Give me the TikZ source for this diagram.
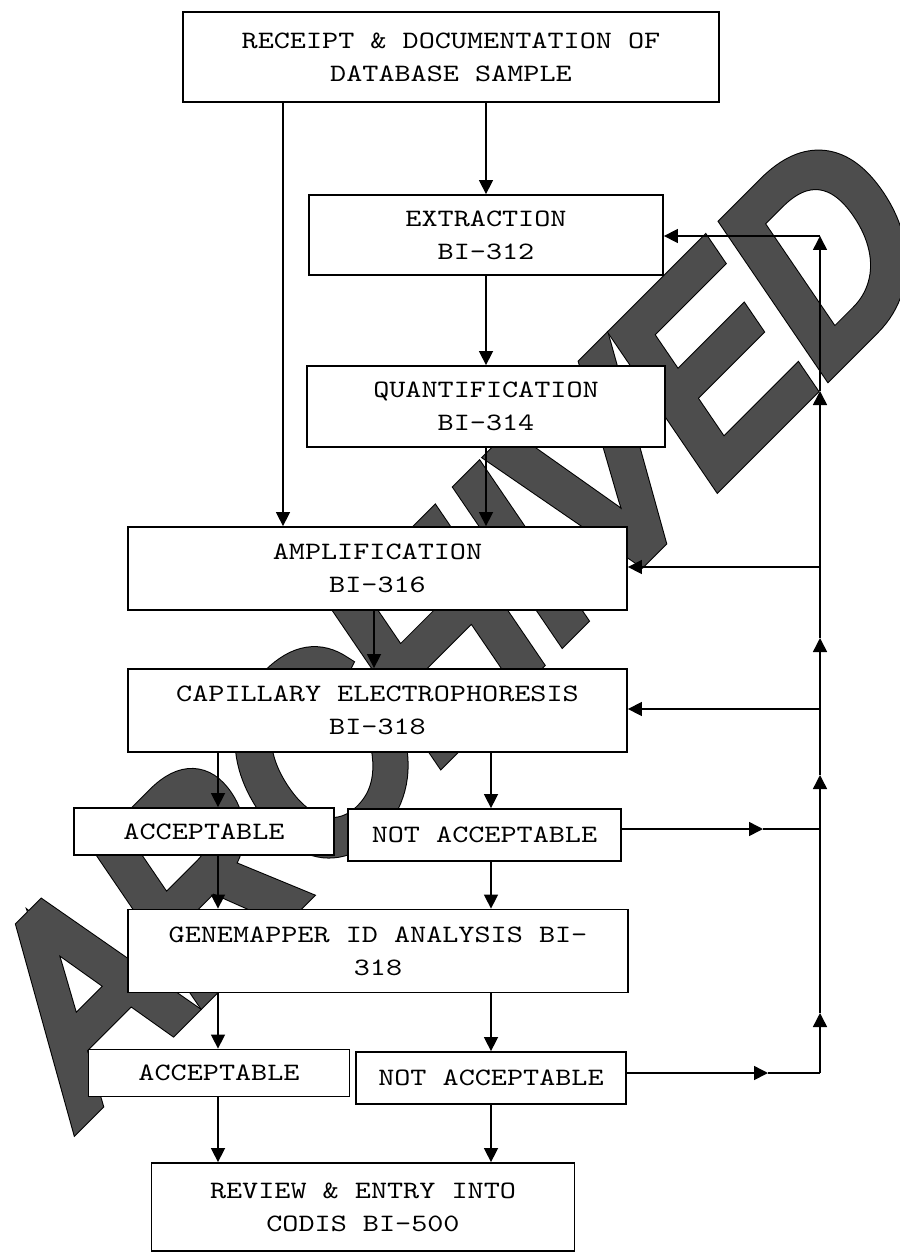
\documentclass[tikz,border=0pt]{standalone}
\usepackage{fontspec}
\usetikzlibrary{arrows.meta}
\newfontfamily\boxfont[FakeStretch=1.227]{lmmono10-regular.otf}
\newfontfamily\wmout[FakeSlant=0.19,FakeStretch=0.92,FakeBold=6.8]{Liberation Sans}
\newfontfamily\wmin[FakeSlant=0.19,FakeStretch=0.92,FakeBold=6]{Liberation Sans}
\definecolor{wmgray}{HTML}{4D4D4D}
\begin{document}
\begin{tikzpicture}[x=1pt,y=-1pt,
  box/.style={draw=black,line width=1.8pt,fill=white,inner sep=0pt,align=center,
    font=\boxfont\fontsize{25}{33}\selectfont},
  arr/.style={line width=1.5pt,-{Triangle[length=14pt,width=14pt]}},
  ln/.style={line width=1.5pt},
  wm/.style={anchor=base west,inner sep=0pt,rotate=45}]
\useasboundingbox (0,0) rectangle (899,1257);
% watermark
\node[wm,text=black,font=\wmout\fontsize{255}{255}\selectfont] (wmo) at (78,1121) {ARCHIVED};
\node[wm,text=wmgray,font=\wmin\fontsize{255}{255}\selectfont] (wmi) at (78,1121) {ARCHIVED};
% boxes
\node[box,minimum width=536pt,minimum height=90pt] (box1) at (451,57) {RECEIPT \& DOCUMENTATION OF\\DATABASE SAMPLE};
\node[box,minimum width=354pt,minimum height=80pt] (ext) at (486,235) {EXTRACTION\\BI-312};
\node[box,minimum width=358pt,minimum height=81pt] (quant) at (486,406.5) {QUANTIFICATION\\BI-314};
\node[box,minimum width=499pt,minimum height=83pt] (amp) at (377.5,568.5) {AMPLIFICATION\\BI-316};
\node[box,minimum width=499pt,minimum height=83pt] (cap) at (377.5,710.5) {CAPILLARY ELECTROPHORESIS\\BI-318};
\node[box,minimum width=260pt,minimum height=47pt] (acc1) at (204,831.5) {ACCEPTABLE};
\node[box,minimum width=273pt,minimum height=52pt] (na1) at (484.5,835) {NOT ACCEPTABLE};
\node[box,minimum width=500pt,minimum height=83pt] (gen) at (378,951) {GENEMAPPER ID ANALYSIS BI-\\318};
\node[box,minimum width=261pt,minimum height=47pt] (acc2) at (219,1073) {ACCEPTABLE};
\node[box,minimum width=270pt,minimum height=52pt] (na2) at (491,1078) {NOT ACCEPTABLE};
\node[box,minimum width=423pt,minimum height=88pt] (rev) at (363,1207) {REVIEW \& ENTRY INTO\\CODIS BI-500};
% columns and junctions
\coordinate (xA) at (283,0);
\coordinate (xM) at (374,0);
\coordinate (xL) at (218,0);
\coordinate (xR) at (491,0);
\coordinate (fbTop) at (820,236);
\coordinate (jA) at (820,567);
\coordinate (jC) at (820,709);
\coordinate (j1) at (820,829);
\coordinate (j2) at (820,1073);
\coordinate (v1) at (820,1013);
\coordinate (v2) at (820,775);
\coordinate (v3) at (820,638);
\coordinate (v4) at (820,391);
\coordinate (m1) at (763,829);
\coordinate (m2) at (768,1073);
% main flow
\draw[arr] (box1.south -| xA) -- (amp.north -| xA);
\draw[arr] (box1.south -| ext.north) -- (ext.north);
\draw[arr] (ext.south) -- (quant.north);
\draw[arr] (quant.south) -- (amp.north -| quant.south);
\draw[arr] (amp.south -| xM) -- (cap.north -| xM);
\draw[arr] (cap.south -| xL) -- (acc1.north -| xL);
\draw[arr] (cap.south -| xR) -- (na1.north -| xR);
\draw[arr] (acc1.south -| xL) -- (gen.north -| xL);
\draw[arr] (na1.south -| xR) -- (gen.north -| xR);
\draw[arr] (gen.south -| xL) -- (acc2.north -| xL);
\draw[arr] (gen.south -| xR) -- (na2.north -| xR);
\draw[arr] (acc2.south -| xL) -- (rev.north -| xL);
\draw[arr] (na2.south -| xR) -- (rev.north -| xR);
% feedback
\draw[arr] (na1.east |- j1) -- (m1);
\draw[ln] (m1) -- (j1);
\draw[arr] (na2.east |- j2) -- (m2);
\draw[ln] (m2) -- (j2);
\draw[arr] (j2) -- (v1);
\draw[ln] (v1) -- (j1);
\draw[arr] (j1) -- (v2);
\draw[ln] (v2) -- (jC);
\draw[arr] (jC) -- (v3);
\draw[ln] (v3) -- (jA);
\draw[arr] (jA) -- (v4);
\draw[arr] (v4) -- (fbTop);
\draw[arr] (fbTop) -- (ext.east |- fbTop);
\draw[arr] (jA) -- (amp.east |- jA);
\draw[arr] (jC) -- (cap.east |- jC);
\end{tikzpicture}
\end{document}
